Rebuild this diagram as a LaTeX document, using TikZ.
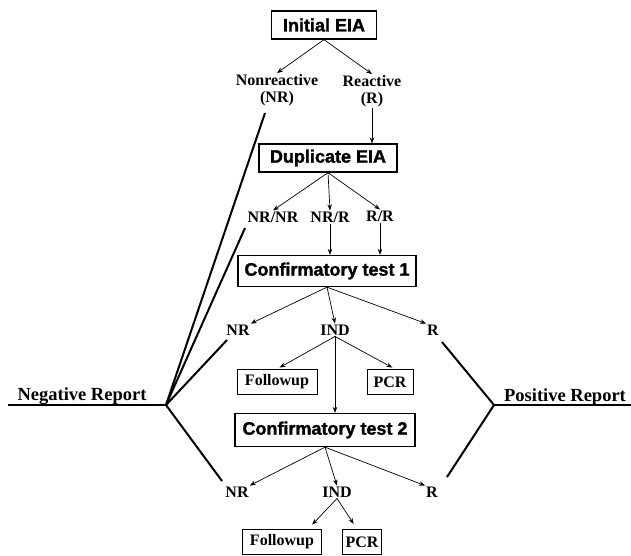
\documentclass[tikz,border=0pt]{standalone}
\usepackage{fontspec}
\setmainfont{Liberation Serif}
\newfontfamily\boxfont[BoldFeatures={FakeBold=1.5}]{Liberation Sans}
\usepackage{tikz}
\usetikzlibrary{arrows.meta,positioning}

\begin{document}
\begin{tikzpicture}[
    x=1pt,y=-1pt,
    testbox/.style={draw,line width=1.3pt,font=\boxfont\bfseries\fontsize{18}{20}\selectfont,inner sep=0pt,minimum height=28pt},
    smallbox/.style={draw,line width=1pt,font=\bfseries\fontsize{16}{18}\selectfont,inner sep=0pt,minimum height=25pt},
    res/.style={font=\bfseries\fontsize{16}{17}\selectfont,inner sep=1pt,align=center},
    rep/.style={font=\bfseries\fontsize{18.5}{20}\selectfont,inner sep=0pt,anchor=base},
    arr/.style={-{Stealth[length=6pt,width=4.5pt]},line width=0.7pt},
    repline/.style={line width=2pt}
  ]
  \useasboundingbox (0,0) rectangle (631,555);

  % test boxes
  \node[testbox,minimum width=105pt] (ini) at (324,25) {Initial EIA};
  \node[testbox,minimum width=138pt] (dup) at (328,158) {Duplicate EIA};
  \node[testbox,minimum width=178pt,minimum height=31pt] (ctone) at (327,271) {Confirmatory test 1};
  \node[testbox,minimum width=180pt,minimum height=33pt] (cttwo) at (325,430) {Confirmatory test 2};

  % results
  \node[res] (nonr) at (277,90) {Nonreactive\\(NR)};
  \node[res] (reac) at (372,91) {Reactive\\(R)};
  \node[res] (nrnr) at (273,217) {NR/NR};
  \node[res] (nrr) at (330,217) {NR/R};
  \node[res] (rr) at (380,216) {R/R};
  \node[res] (nra) at (238,330) {NR};
  \node[res] (inda) at (335,330) {IND};
  \node[res] (ra) at (433,330) {R};
  \node[res] (nrb) at (237,492) {NR};
  \node[res] (indb) at (337,492) {IND};
  \node[res] (rb) at (432,492) {R};

  % followup / PCR
  \node[smallbox,minimum width=80pt] (fua) at (277,382) {Followup};
  \node[smallbox,minimum width=46pt] (pcra) at (390,382) {PCR};
  \node[smallbox,minimum width=79pt] (fub) at (282,542) {Followup};
  \node[smallbox,minimum width=39pt] (pcrb) at (362,542) {PCR};

  % reports
  \node[rep] (negl) at (82,400) {Negative Report};
  \node[rep] (posl) at (565,401) {Positive Report};
  \coordinate (neg) at (166,405);
  \coordinate (negend) at (8,405);
  \coordinate (pos) at (494,405);
  \coordinate (posend) at (631,405);
  \coordinate (nonrend) at (265,113);
  \coordinate (nrnrend) at (245,228);
  \coordinate (nraend) at (227,340);
  \coordinate (nrbend) at (222,481);
  \coordinate (raend) at (442,342);
  \coordinate (rbend) at (447,477);

  \draw[arr] (ini.south) -- (nonr.north);
  \draw[arr] (ini.south) -- (reac.north);
  \draw[arr] (reac.south) -- (reac.south |- dup.north);
  \draw[arr] (dup.south) -- (nrnr.north);
  \draw[arr] (dup.south) -- (nrr.north);
  \draw[arr] (dup.south) -- (rr.north);
  \draw[arr] (nrr.south) -- (nrr.south |- ctone.north);
  \draw[arr] (rr.south) -- (rr.south |- ctone.north);
  \draw[arr] (ctone.south) -- (nra.north east);
  \draw[arr] (ctone.south) -- (inda.north);
  \draw[arr] (ctone.south) -- (ra.north west);
  \draw[arr,shorten >=3pt] (inda.south) -- (fua.north);
  \draw[arr,shorten >=3pt] (inda.south) -- ([xshift=5pt]pcra.north);
  \draw[arr] (inda.south) -- (inda.south |- cttwo.north);
  \draw[arr] (cttwo.south) -- (nrb.north east);
  \draw[arr] (cttwo.south) -- (indb.north);
  \draw[arr] (cttwo.south) -- (rb.north west);
  \draw[arr,shorten >=6pt] (indb.south) -- ([xshift=26pt]fub.north);
  \draw[arr,shorten >=6pt] (indb.south) -- ([xshift=-5pt]pcrb.north);

  \draw[repline] (negend) -- (neg);
  \draw[repline] (neg) -- (nonrend);
  \draw[repline] (neg) -- (nrnrend);
  \draw[repline] (neg) -- (nraend);
  \draw[repline] (neg) -- (nrbend);
  \draw[repline] (posend) -- (pos);
  \draw[repline] (pos) -- (raend);
  \draw[repline] (pos) -- (rbend);
\end{tikzpicture}
\end{document}
